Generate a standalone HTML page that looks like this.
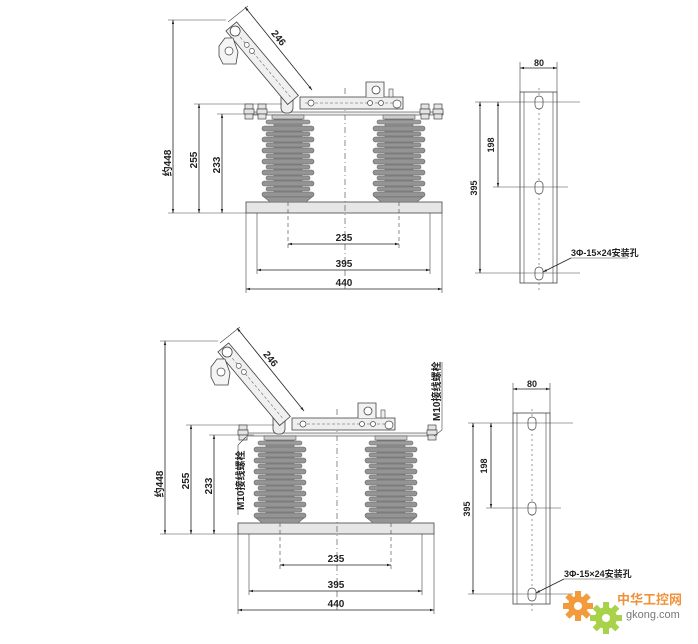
<!DOCTYPE html>
<html><head><meta charset="utf-8"><style>
html,body{margin:0;padding:0;background:#fff;width:698px;height:644px;overflow:hidden}
svg{display:block}
text{font-family:"Liberation Sans","Noto Sans CJK SC",sans-serif;font-weight:bold;fill:#222}
</style></head><body>
<svg width="698" height="644" viewBox="0 0 698 644" xmlns="http://www.w3.org/2000/svg">
<defs>
<marker id="a" viewBox="0 0 10 10" refX="10" refY="5" markerWidth="7" markerHeight="5" orient="auto-start-reverse"><path d="M0,2 L10,5 L0,8 z" fill="#222"/></marker>
<g id="ins">
  <rect x="-14" y="0" width="28" height="84" fill="#939393" stroke="#666" stroke-width="0.6"/>
  <rect x="-22" y="2" width="44" height="4" rx="2" fill="#9c9c9c" stroke="#666" stroke-width="0.6"/>
  <g fill="#949494" stroke="#666" stroke-width="0.6">
    <rect x="-26" y="8" width="52" height="5" rx="2.5"/>
    <rect x="-22" y="14" width="44" height="4" rx="2"/>
    <rect x="-26" y="19" width="52" height="5" rx="2.5"/>
    <rect x="-22" y="25" width="44" height="4" rx="2"/>
    <rect x="-26" y="30" width="52" height="5" rx="2.5"/>
    <rect x="-22" y="36" width="44" height="4" rx="2"/>
    <rect x="-26" y="41" width="52" height="5" rx="2.5"/>
    <rect x="-22" y="47" width="44" height="4" rx="2"/>
    <rect x="-26" y="52" width="52" height="5" rx="2.5"/>
    <rect x="-22" y="58" width="44" height="4" rx="2"/>
    <rect x="-26" y="63" width="52" height="5" rx="2.5"/>
    <rect x="-22" y="69" width="44" height="4" rx="2"/>
    <rect x="-26" y="74" width="52" height="5" rx="2.5"/>
    <path d="M-24,79 L24,79 L18,84 L-18,84 z"/>
  </g>
</g>
<g id="bolt" fill="#e4e4e4" stroke="#444" stroke-width="0.7">
  <rect x="-4" y="0" width="8" height="5"/><rect x="-5" y="5" width="10" height="5"/><rect x="-4" y="10" width="8" height="5"/>
</g>
<g id="dev">
  <rect x="246" y="202" width="196" height="11" fill="#e6e6e6" stroke="#444" stroke-width="0.8"/>
  <g stroke="#444" stroke-width="0.6" fill="none">
    <line x1="246" y1="213" x2="246" y2="293"/><line x1="442" y1="213" x2="442" y2="293"/>
    <line x1="257" y1="213" x2="257" y2="274"/><line x1="430" y1="213" x2="430" y2="274"/>
  </g>
  <g stroke="#444" stroke-width="0.6" stroke-dasharray="4,3" fill="none">
    <line x1="288" y1="118" x2="288" y2="248"/><line x1="399" y1="118" x2="399" y2="248"/>
    <line x1="345" y1="88" x2="345" y2="290" stroke-dasharray="6,3,1,3"/>
  </g>
  <g stroke="#222" stroke-width="0.8" marker-start="url(#a)" marker-end="url(#a)">
    <line x1="288" y1="244" x2="399" y2="244"/>
    <line x1="257" y1="270" x2="430" y2="270"/>
    <line x1="246" y1="289" x2="442" y2="289"/>
  </g>
  <text x="344" y="241" font-size="10" text-anchor="middle">235</text>
  <text x="344" y="267" font-size="10" text-anchor="middle">395</text>
  <text x="344" y="286" font-size="10" text-anchor="middle">440</text>
  <use href="#ins" x="288" y="118"/>
  <use href="#ins" x="399" y="118"/>
  <rect x="247" y="112" width="196" height="3" fill="#eee" stroke="#444" stroke-width="0.6"/>
  <rect x="272" y="115" width="32" height="4" fill="#ccc" stroke="#444" stroke-width="0.5"/>
  <rect x="383" y="115" width="32" height="4" fill="#ccc" stroke="#444" stroke-width="0.5"/>
  <rect x="300" y="97" width="103" height="12" fill="#eee" stroke="#444" stroke-width="0.8"/>
  <line x1="305" y1="103" x2="398" y2="103" stroke="#555" stroke-width="0.5" stroke-dasharray="3,2"/>
  <g fill="#fff" stroke="#444" stroke-width="0.7">
    <circle cx="311" cy="103" r="3"/><circle cx="370" cy="103" r="2.5"/><circle cx="381" cy="103" r="2.5"/><circle cx="397" cy="104" r="4"/>
  </g>
  <path d="M366,97 L366,82 L384,82 L384,97" fill="#f2f2f2" stroke="#444" stroke-width="0.8"/>
  <circle cx="376" cy="90" r="4" fill="#fff" stroke="#444" stroke-width="0.8"/>
  <rect x="389" y="89" width="4" height="8" fill="#eee" stroke="#444" stroke-width="0.6"/>
  <rect x="281" y="89" width="12" height="24" rx="5" fill="#eee" stroke="#444" stroke-width="0.8"/>
  <circle cx="287" cy="96" r="3" fill="#fff" stroke="#444" stroke-width="0.7"/>
  <g transform="translate(293,100) rotate(-130)">
    <rect x="0" y="-7" width="96" height="14" fill="#f0f0f0" stroke="#444" stroke-width="0.8"/>
    <line x1="4" y1="0" x2="92" y2="0" stroke="#555" stroke-width="0.5" stroke-dasharray="3,2"/>
    <circle cx="90" cy="0" r="5" fill="#fff" stroke="#444" stroke-width="0.8"/>
    <circle cx="72" cy="0" r="2.5" fill="#fff" stroke="#444" stroke-width="0.6"/>
    <circle cx="64" cy="0" r="2.5" fill="#fff" stroke="#444" stroke-width="0.6"/>
  </g>
  <path d="M225,38 L233,38 L238,52 L236,64 L223,64 L219,56 L219,46 z" fill="#f4f4f4" stroke="#444" stroke-width="0.8"/>
  <circle cx="229" cy="51" r="4" fill="#fff" stroke="#444" stroke-width="0.7"/>
  <line x1="245" y1="7" x2="312" y2="90" stroke="#222" stroke-width="0.8" marker-start="url(#a)" marker-end="url(#a)"/>
  <line x1="228" y1="22" x2="248" y2="6" stroke="#444" stroke-width="0.6"/>
  <text transform="translate(276,40) rotate(51)" font-size="10" text-anchor="middle">246</text>
  <g stroke="#444" stroke-width="0.6">
    <line x1="168" y1="20" x2="226" y2="20"/>
    <line x1="194" y1="104" x2="282" y2="104"/>
    <line x1="217" y1="114" x2="262" y2="114"/>
    <line x1="168" y1="213" x2="246" y2="213"/>
  </g>
  <g stroke="#222" stroke-width="0.8" marker-start="url(#a)" marker-end="url(#a)">
    <line x1="173" y1="20" x2="173" y2="213"/>
    <line x1="199" y1="104" x2="199" y2="213"/>
    <line x1="222" y1="114" x2="222" y2="213"/>
  </g>
  <text transform="translate(171,163) rotate(-90)" font-size="10" text-anchor="middle">约448</text>
  <text transform="translate(197,160) rotate(-90)" font-size="10" text-anchor="middle">255</text>
  <text transform="translate(220,165) rotate(-90)" font-size="10" text-anchor="middle">233</text>
</g>
<g id="plate">
  <rect x="520" y="92" width="37" height="191" fill="#fff" stroke="#444" stroke-width="0.8"/>
  <line x1="524" y1="92" x2="524" y2="283" stroke="#444" stroke-width="0.6"/>
  <line x1="553" y1="92" x2="553" y2="283" stroke="#444" stroke-width="0.6"/>
  <line x1="539" y1="88" x2="539" y2="290" stroke="#555" stroke-width="0.6" stroke-dasharray="2,3"/>
  <g fill="#fff" stroke="#444" stroke-width="0.7">
    <rect x="535" y="96" width="8" height="13" rx="4"/><rect x="535" y="181" width="8" height="13" rx="4"/><rect x="535" y="267" width="8" height="13" rx="4"/>
  </g>
  <g stroke="#444" stroke-width="0.6">
    <line x1="475" y1="102" x2="580" y2="102"/><line x1="493" y1="187" x2="568" y2="187"/><line x1="475" y1="273" x2="580" y2="273"/>
    <line x1="520" y1="62" x2="520" y2="92"/><line x1="557" y1="62" x2="557" y2="92"/>
  </g>
  <g stroke="#222" stroke-width="0.8" marker-start="url(#a)" marker-end="url(#a)">
    <line x1="520" y1="68" x2="557" y2="68"/>
    <line x1="480" y1="102" x2="480" y2="273"/>
    <line x1="498" y1="102" x2="498" y2="187"/>
  </g>
  <text x="539" y="66" font-size="9" text-anchor="middle">80</text>
  <text transform="translate(494,145) rotate(-90)" font-size="9" text-anchor="middle">198</text>
  <text transform="translate(477,188) rotate(-90)" font-size="9" text-anchor="middle">395</text>
  <line x1="571" y1="258" x2="543" y2="272" stroke="#222" stroke-width="0.8" marker-end="url(#a)"/>
  <line x1="571" y1="258" x2="628" y2="258" stroke="#444" stroke-width="0.6"/>
  <text x="571" y="256" font-size="9">3Φ-15×24安装孔</text>
</g>
</defs>

<use href="#dev"/>
<use href="#bolt" x="249" y="104"/><use href="#bolt" x="262" y="104"/>
<use href="#bolt" x="425" y="104"/><use href="#bolt" x="438" y="104"/>
<use href="#plate"/>
<g transform="translate(-8,321)">
  <use href="#dev"/>
  <use href="#bolt" x="251" y="104"/><use href="#bolt" x="440" y="104"/>
</g>
<g transform="translate(-7,321)"><use href="#plate"/></g>

<text transform="translate(244,510) rotate(-90)" font-size="10">M10接线螺栓</text>
<line x1="238" y1="515" x2="238" y2="445" stroke="#444" stroke-width="0.6"/>
<line x1="238" y1="445" x2="246" y2="437" stroke="#444" stroke-width="0.6"/>
<text transform="translate(440,421) rotate(-90)" font-size="10">M10接线螺栓</text>
<line x1="442" y1="362" x2="442" y2="430" stroke="#444" stroke-width="0.6"/>
<line x1="442" y1="430" x2="434" y2="436" stroke="#444" stroke-width="0.6"/>

<g>
  <circle cx="578" cy="606" r="10" fill="#f39a3a"/>
  <g fill="#f39a3a"><rect x="575" y="591" width="6" height="30"/><rect x="563" y="603" width="30" height="6"/>
  <rect x="575" y="591" width="6" height="30" transform="rotate(45 578 606)"/><rect x="575" y="591" width="6" height="30" transform="rotate(-45 578 606)"/></g>
  <circle cx="578" cy="606" r="4" fill="#fff"/>
  <circle cx="606" cy="618" r="11" fill="#a8d24a"/>
  <g fill="#a8d24a"><rect x="603" y="602" width="6" height="32"/><rect x="590" y="615" width="32" height="6"/>
  <rect x="603" y="602" width="6" height="32" transform="rotate(45 606 618)"/><rect x="603" y="602" width="6" height="32" transform="rotate(-45 606 618)"/></g>
  <circle cx="606" cy="618" r="4" fill="#fff"/>
  <text x="617" y="604" font-size="13" style="fill:#f0923a">中华工控网</text>
  <text x="626" y="618" font-size="11" style="fill:#777;font-weight:normal">gkong.com</text>
</g>
</svg>
</body></html>
